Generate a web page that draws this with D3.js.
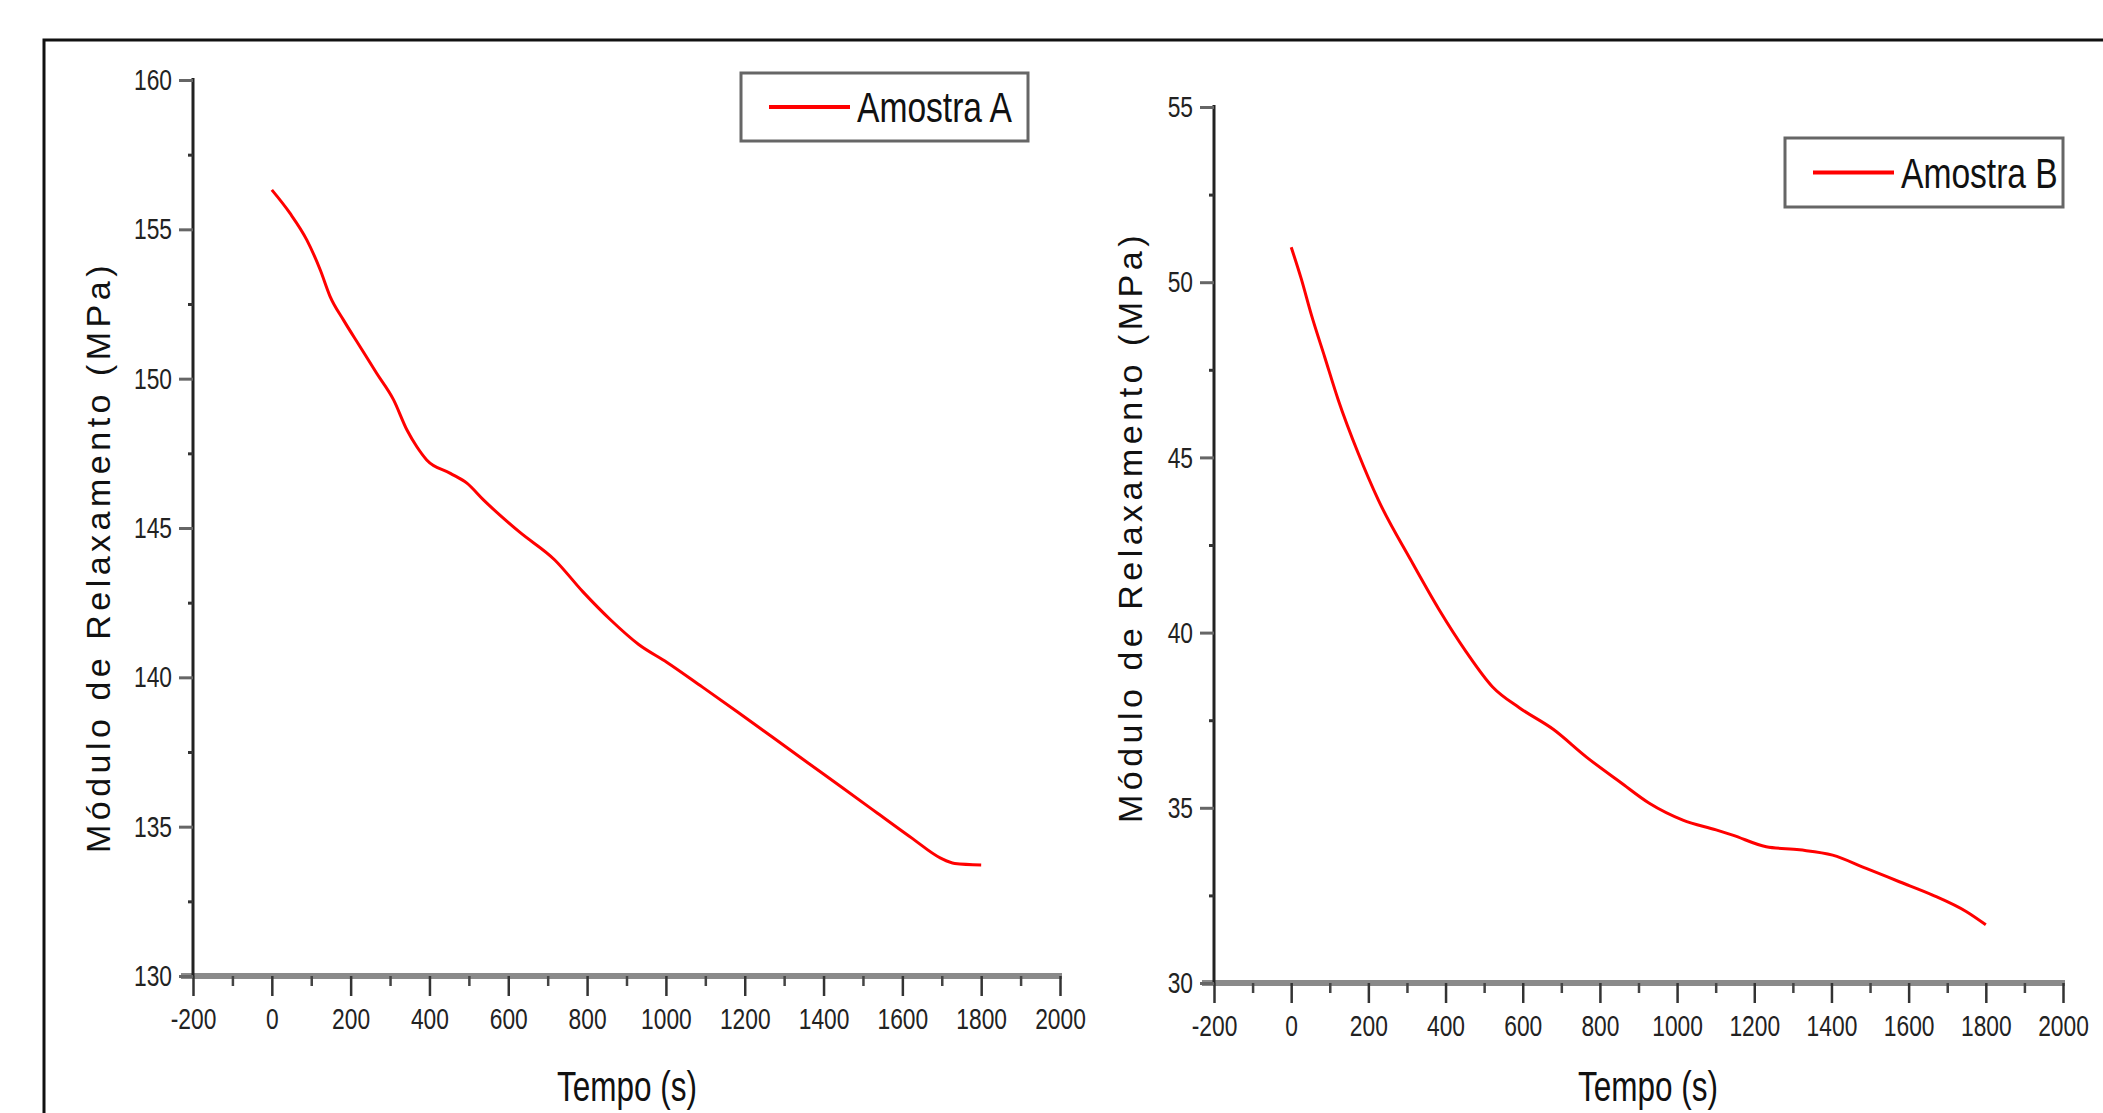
<!DOCTYPE html>
<html>
<head>
<meta charset="utf-8">
<script src="https://cdn.jsdelivr.net/npm/d3@7"></script>
<style>
    body { margin: 0; background: #fff; }
    .tick-label { font-family: "Liberation Sans", Arial, sans-serif; fill: #222; }
    .legend-text { font-family: "Liberation Sans", Arial, sans-serif; fill: #111; }
    .x-title { font-family: "Liberation Sans", Arial, sans-serif; fill: #111; }
    .y-title { font-family: "Liberation Sans", Arial, sans-serif; fill: #111; }
</style>
</head>
<body>
<svg id="fig"></svg>
<script>
// Amostra A
const tempoA = [0, 46, 89, 123, 148, 182, 224, 266, 309, 343, 368, 393, 453, 495, 537, 629, 718, 789, 860, 931, 1003, 1092, 1181, 1270, 1359, 1448, 1537, 1626, 1697, 1733, 1800];
const moduloA = [156.32, 155.54, 154.64, 153.64, 152.75, 151.96, 151.07, 150.18, 149.29, 148.28, 147.72, 147.28, 146.83, 146.5, 145.94, 144.86, 143.93, 142.87, 141.92, 141.1, 140.5, 139.68, 138.85, 138.0, 137.15, 136.3, 135.45, 134.6, 133.95, 133.77, 133.72];

// Amostra B
const tempoB = [0, 26, 52, 87, 122, 174, 226, 310, 383, 453, 522, 592, 679, 766, 853, 928, 1015, 1101, 1144, 1231, 1317, 1403, 1490, 1576, 1662, 1749, 1800];
const moduloB = [51.0, 50.1, 49.08, 47.86, 46.64, 45.11, 43.78, 42.07, 40.66, 39.46, 38.45, 37.85, 37.24, 36.44, 35.73, 35.13, 34.65, 34.37, 34.22, 33.89, 33.8, 33.65, 33.27, 32.89, 32.51, 32.04, 31.66];

// ticks
const xTicks = [-200, 0, 200, 400, 600, 800, 1000, 1200, 1400, 1600, 1800, 2000];
const yTicksA = [130, 135, 140, 145, 150, 155, 160];
const yTicksB = [30, 35, 40, 45, 50, 55];

const xTitle = "Tempo (s)";
const yTitle = "Módulo de Relaxamento (MPa)";

const W = 2103, H = 1113;
const narrow = 0.76; // the picture uses a condensed face, squeeze the text

const svg = d3.select('#fig')
    .attr('width', W)
    .attr('height', H);

// outer frame, only its top and left edge are in the picture
svg.append('path')
    .attr('d', `M44,${H + 5} L44,40 L${W + 5},40`)
    .attr('fill', 'none')
    .attr('stroke', '#111')
    .attr('stroke-width', 3);

class RelaxationChart {
    constructor(_config) {
        this.config = {
            x0: _config.x0,
            x1: _config.x1,
            y0: _config.y0,
            y1: _config.y1,
            yTicks: _config.yTicks,
            label: _config.label,
            legend: _config.legend,
            yTitlePos: _config.yTitlePos,
            xTitlePos: _config.xTitlePos
        }
        this.tempo = _config.tempo;
        this.modulo = _config.modulo;
    }

    initVis() {
        let vis = this;
        let c = vis.config;

        vis.g = svg.append('g');

        vis.x = d3.scaleLinear()
            .domain([xTicks[0], xTicks[xTicks.length - 1]])
            .range([c.x0, c.x1]);

        vis.y = d3.scaleLinear()
            .domain([c.yTicks[0], c.yTicks[c.yTicks.length - 1]])
            .range([c.y0, c.y1]);

        vis.render();
    }

    render() {
        let vis = this;
        let c = vis.config;

        // minor ticks sit half way between the major ones
        let xMinor = xTicks.slice(0, -1).map((d, i) => (d + xTicks[i + 1]) / 2);
        let yMinor = c.yTicks.slice(0, -1).map((d, i) => (d + c.yTicks[i + 1]) / 2);

        // x axis: thick grey base line
        vis.g.append('line')
            .attr('x1', c.x0 - 12).attr('x2', c.x1 + 2)
            .attr('y1', c.y0).attr('y2', c.y0)
            .attr('stroke', '#8a8a8a')
            .attr('stroke-width', 6);

        let xAxis = d3.axisBottom(vis.x)
            .tickValues(xTicks)
            .tickSize(20)
            .tickPadding(12)
            .tickFormat(d => String(d));

        let xg = vis.g.append('g')
            .attr('transform', `translate(0,${c.y0})`)
            .call(xAxis);
        xg.select('.domain').remove();
        xg.selectAll('.tick line').attr('stroke', '#333').attr('stroke-width', 2.5);
        xg.selectAll('.tick text')
            .attr('class', 'tick-label')
            .attr('font-size', 30)
            .attr('fill', '#222')
            .attr('transform', `scale(${narrow},1)`);

        vis.g.append('g')
            .attr('transform', `translate(0,${c.y0})`)
            .call(d3.axisBottom(vis.x).tickValues(xMinor).tickSize(10).tickFormat(''))
            .call(g => g.select('.domain').remove())
            .selectAll('.tick line').attr('stroke', '#444').attr('stroke-width', 2.5);

        // y axis
        let yAxis = d3.axisLeft(vis.y)
            .tickValues(c.yTicks)
            .tickSize(14)
            .tickPadding(7)
            .tickFormat(d => String(d));

        let yg = vis.g.append('g')
            .attr('transform', `translate(${c.x0},0)`)
            .call(yAxis);
        yg.select('.domain')
            .attr('stroke', '#222')
            .attr('stroke-width', 3)
            .attr('d', `M0,${c.y1 - 2}V${c.y0}`);
        yg.selectAll('.tick line').attr('stroke', '#666').attr('stroke-width', 3);
        yg.selectAll('.tick text')
            .attr('class', 'tick-label')
            .attr('font-size', 30)
            .attr('fill', '#222')
            .attr('x', -21 / narrow)
            .attr('transform', `scale(${narrow},1)`);

        vis.g.append('g')
            .attr('transform', `translate(${c.x0},0)`)
            .call(d3.axisLeft(vis.y).tickValues(yMinor).tickSize(5).tickFormat(''))
            .call(g => g.select('.domain').remove())
            .selectAll('.tick line').attr('stroke', '#333').attr('stroke-width', 3);

        // the curve
        let pts = vis.tempo.map((t, i) => [t, vis.modulo[i]]);
        let line = d3.line()
            .x(d => vis.x(d[0]))
            .y(d => vis.y(d[1]))
            .curve(d3.curveMonotoneX);

        vis.g.append('path')
            .datum(pts)
            .attr('d', line)
            .attr('fill', 'none')
            .attr('stroke', '#ff0000')
            .attr('stroke-width', 3);

        // legend
        let L = c.legend;
        let lg = vis.g.append('g').attr('transform', `translate(${L.x},${L.y})`);
        lg.append('rect')
            .attr('width', L.w).attr('height', L.h)
            .attr('fill', '#fff')
            .attr('stroke', '#666')
            .attr('stroke-width', 3);
        lg.append('line')
            .attr('x1', 28).attr('x2', 109)
            .attr('y1', L.h / 2).attr('y2', L.h / 2)
            .attr('stroke', '#ff0000')
            .attr('stroke-width', 4);
        lg.append('text')
            .attr('class', 'legend-text')
            .attr('transform', `translate(116,${L.h / 2 + 15}) scale(0.8,1)`)
            .attr('font-size', 42)
            .text(c.label);

        // axis titles
        vis.g.append('text')
            .attr('class', 'x-title')
            .attr('transform', `translate(${c.xTitlePos[0]},${c.xTitlePos[1]}) scale(0.75,1)`)
            .attr('text-anchor', 'middle')
            .attr('font-size', 42)
            .text(xTitle);

        vis.g.append('text')
            .attr('class', 'y-title')
            .attr('transform', `translate(${c.yTitlePos[0]},${c.yTitlePos[1]}) rotate(-90)`)
            .attr('text-anchor', 'middle')
            .attr('font-size', 34)
            .attr('letter-spacing', 4.5)
            .text(yTitle);
    }
}

let chartA = new RelaxationChart({
    x0: 193, x1: 1060, y0: 976, y1: 80,
    yTicks: yTicksA,
    label: 'Amostra A',
    legend: { x: 741, y: 73, w: 287, h: 68 },
    xTitlePos: [627, 1101],
    yTitlePos: [110, 557],
    tempo: tempoA,
    modulo: moduloA
});
chartA.initVis();

let chartB = new RelaxationChart({
    x0: 1214, x1: 2063, y0: 983, y1: 107,
    yTicks: yTicksB,
    label: 'Amostra B',
    legend: { x: 1785, y: 138, w: 278, h: 69 },
    xTitlePos: [1648, 1101],
    yTitlePos: [1142, 527],
    tempo: tempoB,
    modulo: moduloB
});
chartB.initVis();
</script>
</body>
</html>
